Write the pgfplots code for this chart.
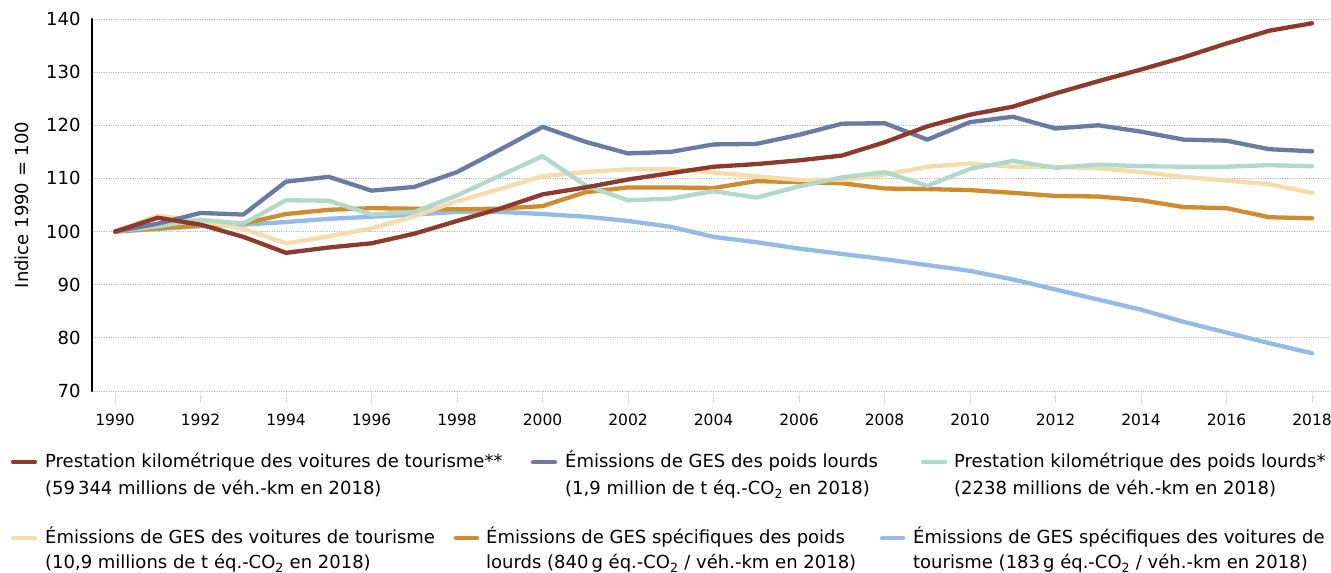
\documentclass[border=0pt]{standalone}
\usepackage{fontspec}
\setmainfont{DejaVu Sans}
\usepackage{pgfplots}
\pgfplotsset{compat=1.18}
\definecolor{cred}{RGB}{140,58,46}
\definecolor{cbg}{RGB}{106,123,162}
\definecolor{cmint}{RGB}{178,216,204}
\definecolor{cbeige}{RGB}{245,220,170}
\definecolor{corange}{RGB}{207,140,46}
\definecolor{clblue}{RGB}{148,187,230}
\newcommand{\legfont}{\fontsize{18}{20}\selectfont}
\begin{document}
\begin{tikzpicture}[x=1pt,y=1pt]
\useasboundingbox (0,0) rectangle (1331,573);
\begin{axis}[
  at={(92pt,182pt)}, anchor=south west,
  scale only axis, width=1238pt, height=372pt,
  xmin=1989.46, xmax=2018.42, ymin=70, ymax=140,
  axis y line*=left, axis x line*=bottom,
  x axis line style={draw=none},
  y axis line style={line width=2.6pt, black},
  xtick={1990,1992,...,2018},
  ytick={70,80,...,140},
  ytick style={draw=none},
  xtick style={draw=gray!60, dotted, line width=0.9pt},
  tick align=outside, major tick length=12pt,
  ymajorgrids,
  major grid style={dotted, draw=gray!65, line width=0.9pt},
  /pgf/number format/assume math mode=true,
  /pgf/number format/1000 sep={},
  xticklabel style={font=\fontsize{15.5}{16}\selectfont, yshift=-7pt},
  yticklabel style={font=\fontsize{18}{18}\selectfont, xshift=4pt},
  ylabel={Indice 1990 = 100},
  every axis y label/.style={at={(-70pt,0.5)}, rotate=90, anchor=center, font=\fontsize{18}{18}\selectfont},
  line join=round, line cap=round,
  every axis plot/.append style={line width=4.3pt, no markers},
]
\addplot[clblue] coordinates {(1990,100)(1991,100.5)(1992,101)(1993,101.3)(1994,101.8)(1995,102.4)(1996,102.8)(1997,103.2)(1998,103.7)(1999,103.7)(2000,103.3)(2001,102.8)(2002,102)(2003,100.9)(2004,99)(2005,98)(2006,96.8)(2007,95.8)(2008,94.8)(2009,93.7)(2010,92.6)(2011,91)(2012,89.1)(2013,87.2)(2014,85.3)(2015,83)(2016,81)(2017,79)(2018,77.1)};
\addplot[corange] coordinates {(1990,100)(1991,100.6)(1992,101.2)(1993,101.5)(1994,103.3)(1995,104.1)(1996,104.4)(1997,104.3)(1998,104.2)(1999,104.3)(2000,104.8)(2001,107.4)(2002,108.3)(2003,108.3)(2004,108.2)(2005,109.5)(2006,109.3)(2007,109.1)(2008,108.1)(2009,108)(2010,107.8)(2011,107.3)(2012,106.7)(2013,106.6)(2014,105.9)(2015,104.6)(2016,104.4)(2017,102.7)(2018,102.5)};
\addplot[cbeige] coordinates {(1990,100)(1991,103)(1992,102)(1993,100.5)(1994,97.8)(1995,99.1)(1996,100.6)(1997,102.9)(1998,105.7)(1999,108)(2000,110.4)(2001,111.2)(2002,111.7)(2003,111.8)(2004,111.1)(2005,110.4)(2006,109.7)(2007,109.7)(2008,110.7)(2009,112.2)(2010,112.8)(2011,112.2)(2012,112.2)(2013,111.9)(2014,111.2)(2015,110.3)(2016,109.6)(2017,108.9)(2018,107.3)};
\addplot[cmint] coordinates {(1990,100)(1991,101)(1992,102.2)(1993,101.5)(1994,105.9)(1995,105.8)(1996,103.2)(1997,103.7)(1998,106.8)(1999,110.5)(2000,114.2)(2001,108.7)(2002,105.9)(2003,106.2)(2004,107.6)(2005,106.4)(2006,108.5)(2007,110.2)(2008,111.2)(2009,108.6)(2010,111.8)(2011,113.3)(2012,112)(2013,112.6)(2014,112.3)(2015,112.2)(2016,112.2)(2017,112.5)(2018,112.3)};
\addplot[cbg] coordinates {(1990,100)(1991,101.5)(1992,103.5)(1993,103.2)(1994,109.4)(1995,110.3)(1996,107.7)(1997,108.4)(1998,111.2)(1999,115.4)(2000,119.7)(2001,116.9)(2002,114.7)(2003,115)(2004,116.4)(2005,116.5)(2006,118.2)(2007,120.3)(2008,120.4)(2009,117.3)(2010,120.6)(2011,121.6)(2012,119.4)(2013,120)(2014,118.8)(2015,117.3)(2016,117.1)(2017,115.5)(2018,115.1)};
\addplot[cred] coordinates {(1990,100)(1991,102.6)(1992,101.3)(1993,99)(1994,96)(1995,97)(1996,97.8)(1997,99.6)(1998,102)(1999,104.3)(2000,107)(2001,108.3)(2002,109.8)(2003,111)(2004,112.2)(2005,112.7)(2006,113.4)(2007,114.3)(2008,116.8)(2009,119.8)(2010,122)(2011,123.5)(2012,126)(2013,128.3)(2014,130.5)(2015,132.8)(2016,135.4)(2017,137.8)(2018,139.2)};
\end{axis}
% legend
\begin{scope}[line width=4.3pt, line cap=round]
\draw[cred] (13,111) -- (35,111);
\node[anchor=base west, inner sep=0, font=\legfont] at (43,105) {Prestation kilométrique des voitures de tourisme**};
\node[anchor=base west, inner sep=0, font=\legfont] at (43,78) {(59\,344 millions de véh.-km en 2018)};
\draw[cbg] (533,111) -- (555,111);
\node[anchor=base west, inner sep=0, font=\legfont] at (563,105) {Émissions de GES des poids lourds};
\node[anchor=base west, inner sep=0, font=\legfont] at (563,78) {(1,9 million de t éq.-CO\textsubscript{2} en 2018)};
\draw[cmint] (923,111) -- (945,111);
\node[anchor=base west, inner sep=0, font=\legfont] at (952,105) {Prestation kilométrique des poids lourds*};
\node[anchor=base west, inner sep=0, font=\legfont] at (952,78) {(2238 millions de véh.-km en 2018)};
\draw[cbeige] (13,35) -- (35,35);
\node[anchor=base west, inner sep=0, font=\legfont] at (43,29) {Émissions de GES des voitures de tourisme};
\node[anchor=base west, inner sep=0, font=\legfont] at (43,4) {(10,9 millions de t éq.-CO\textsubscript{2} en 2018)};
\draw[corange] (456,35) -- (477,35);
\node[anchor=base west, inner sep=0, font=\legfont] at (484,29) {Émissions de GES spécifiques des poids};
\node[anchor=base west, inner sep=0, font=\legfont] at (484,4) {lourds (840\,g éq.-CO\textsubscript{2} / véh.-km en 2018)};
\draw[clblue] (882,35) -- (903,35);
\node[anchor=base west, inner sep=0, font=\legfont] at (911,29) {Émissions de GES spécifiques des voitures de};
\node[anchor=base west, inner sep=0, font=\legfont] at (911,4) {tourisme (183\,g éq.-CO\textsubscript{2} / véh.-km en 2018)};
\end{scope}
\end{tikzpicture}
\end{document}
